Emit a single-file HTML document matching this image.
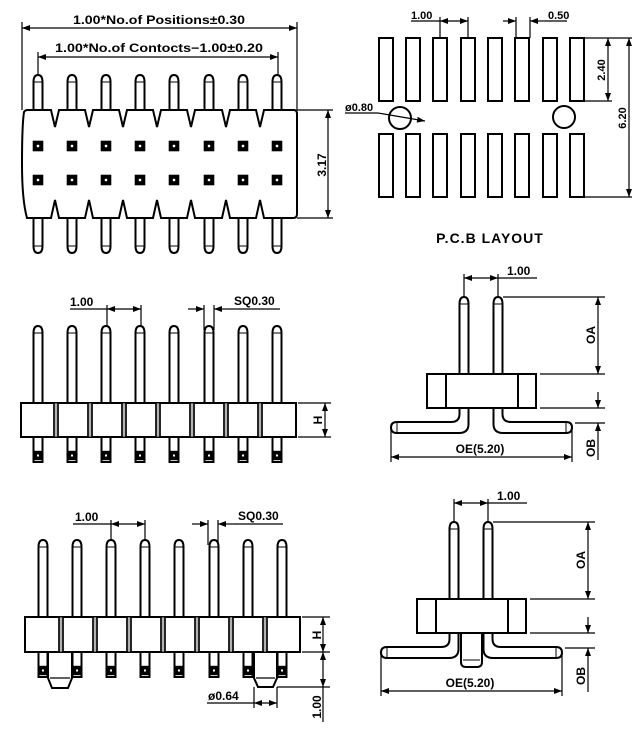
<!DOCTYPE html>
<html><head><meta charset="utf-8">
<style>html,body{margin:0;padding:0;background:#fff;}svg{display:block}</style>
</head><body>
<svg width="640" height="737" viewBox="0 0 640 737" xmlns="http://www.w3.org/2000/svg" font-family="Liberation Sans, sans-serif" font-weight="bold" font-size="12">
<defs>
<marker id="a" viewBox="0 0 8 6" refX="8" refY="3" markerWidth="8" markerHeight="6" markerUnits="userSpaceOnUse" orient="auto-start-reverse"><path d="M0,0 L8,3 L0,6 z" fill="#000"/></marker>
<g id="pt35"><path d="M-4.5,35 L-4.5,7 Q-4.5,0 0,0 Q4.5,0 4.5,7 L4.5,35" fill="none" stroke="#000" stroke-width="2"/><path d="M-4.5,7 L4.5,7" stroke="#000" stroke-width="1"/></g>
<g id="pt77"><path d="M-4.5,77 L-4.5,7 Q-4.5,0 0,0 Q4.5,0 4.5,7 L4.5,77" fill="none" stroke="#000" stroke-width="2"/><path d="M-4.5,7 L4.5,7" stroke="#000" stroke-width="1"/></g>
<g id="sq"><rect x="-4" y="-4" width="8" height="8" fill="#000" stroke="#000" stroke-width="2.6"/><rect x="-1.2" y="-1.2" width="2.4" height="2.4" fill="#fff"/></g>
<g id="lp"><rect x="-4.5" y="0" width="9" height="25" fill="none" stroke="#000" stroke-width="2"/><rect x="-3" y="15" width="6" height="7" fill="#000" stroke="#000" stroke-width="2.4"/><rect x="-1" y="17.5" width="2" height="2" fill="#fff"/></g>
</defs>
<g stroke="#000" fill="none" stroke-width="1.2">
<line x1="22" y1="22" x2="22" y2="110"/><line x1="297" y1="22" x2="297" y2="110"/>
<line x1="22" y1="28" x2="297" y2="28" marker-start="url(#a)" marker-end="url(#a)"/>
<line x1="38" y1="52" x2="38" y2="75"/><line x1="278" y1="52" x2="278" y2="75"/>
<line x1="38" y1="57" x2="278" y2="57" marker-start="url(#a)" marker-end="url(#a)"/>
<path stroke-width="2" d="M24,112 Q25,110 28,110 L51,110 L55,127 L59,110 L85,110 L89,127 L93,110 L119,110 L123,127 L127,110 L153,110 L157,127 L161,110 L187,110 L191,127 L195,110 L222,110 L226,127 L230,110 L256,110 L260,127 L264,110 L294,110 Q297,110 297,114 L297,214 Q297,218 293,218 L264,218 L260,200 L256,218 L230,218 L226,200 L222,218 L195,218 L191,200 L187,218 L161,218 L157,200 L153,218 L127,218 L123,200 L119,218 L93,218 L89,200 L85,218 L59,218 L55,200 L51,218 L27,218 Q22,200 22,164 Q22,125 24,112 Z"/>
<line x1="297" y1="110" x2="333" y2="110"/><line x1="297" y1="218" x2="333" y2="218"/>
<line x1="328" y1="110" x2="328" y2="218" marker-start="url(#a)" marker-end="url(#a)"/>
</g>
<g>
<use href="#pt35" x="38" y="75"/><use href="#pt35" x="72" y="75"/><use href="#pt35" x="106" y="75"/><use href="#pt35" x="140" y="75"/><use href="#pt35" x="174" y="75"/><use href="#pt35" x="209" y="75"/><use href="#pt35" x="243" y="75"/><use href="#pt35" x="277" y="75"/>
<g transform="translate(0,471) scale(1,-1)">
<use href="#pt35" x="38" y="218"/><use href="#pt35" x="72" y="218"/><use href="#pt35" x="106" y="218"/><use href="#pt35" x="140" y="218"/><use href="#pt35" x="174" y="218"/><use href="#pt35" x="209" y="218"/><use href="#pt35" x="243" y="218"/><use href="#pt35" x="277" y="218"/>
</g>
<use href="#sq" x="38" y="146"/><use href="#sq" x="72" y="146"/><use href="#sq" x="106" y="146"/><use href="#sq" x="140" y="146"/><use href="#sq" x="174" y="146"/><use href="#sq" x="209" y="146"/><use href="#sq" x="243" y="146"/><use href="#sq" x="277" y="146"/>
<use href="#sq" x="38" y="180"/><use href="#sq" x="72" y="180"/><use href="#sq" x="106" y="180"/><use href="#sq" x="140" y="180"/><use href="#sq" x="174" y="180"/><use href="#sq" x="209" y="180"/><use href="#sq" x="243" y="180"/><use href="#sq" x="277" y="180"/>
</g>
<text x="73" y="24" textLength="172" lengthAdjust="spacingAndGlyphs">1.00*No.of  Positions±0.30</text>
<text x="55" y="52" textLength="208" lengthAdjust="spacingAndGlyphs">1.00*No.of  Contocts−1.00±0.20</text>
<text transform="translate(326,165) rotate(-90)" text-anchor="middle">3.17</text>

<g>
<use href="#pt77" x="38" y="326"/><use href="#pt77" x="72" y="326"/><use href="#pt77" x="106" y="326"/><use href="#pt77" x="140" y="326"/><use href="#pt77" x="174" y="326"/><use href="#pt77" x="209" y="326"/><use href="#pt77" x="243" y="326"/><use href="#pt77" x="277" y="326"/>
<use href="#lp" x="38" y="437"/><use href="#lp" x="72" y="437"/><use href="#lp" x="106" y="437"/><use href="#lp" x="140" y="437"/><use href="#lp" x="174" y="437"/><use href="#lp" x="209" y="437"/><use href="#lp" x="243" y="437"/><use href="#lp" x="277" y="437"/>
</g>
<g stroke="#000" fill="none" stroke-width="1.2">
<rect x="21" y="403" width="275" height="34" fill="#fff" stroke-width="2"/>
<g stroke-width="1.7">
<path d="M54,403V437M58,403V437M88,403V437M92,403V437M122,403V437M126,403V437M156,403V437M160,403V437M190,403V437M194,403V437M224,403V437M228,403V437M258,403V437M262,403V437"/>
</g>
<path stroke="#999" stroke-width="1.5" d="M56,403V437M90,403V437M124,403V437M158,403V437M192,403V437M226,403V437M260,403V437"/>
<line x1="70" y1="309" x2="107" y2="309"/>
<line x1="107" y1="305" x2="107" y2="326"/><line x1="141" y1="305" x2="141" y2="326"/>
<line x1="107" y1="309" x2="141" y2="309" marker-start="url(#a)" marker-end="url(#a)"/>
<line x1="204" y1="305" x2="204" y2="330"/><line x1="214" y1="305" x2="214" y2="330"/>
<line x1="188" y1="309" x2="204" y2="309" marker-end="url(#a)"/>
<line x1="230" y1="309" x2="214" y2="309" marker-end="url(#a)"/>
<line x1="230" y1="309" x2="280" y2="309"/>
<line x1="298" y1="403" x2="331" y2="403"/><line x1="298" y1="437" x2="331" y2="437"/>
<line x1="325" y1="403" x2="325" y2="437" marker-start="url(#a)" marker-end="url(#a)"/>
</g>
<text x="70" y="306">1.00</text>
<text x="234" y="305">SQ0.30</text>
<text transform="translate(322,420) rotate(-90)" text-anchor="middle">H</text>

<g>
<use href="#pt77" x="43" y="540"/><use href="#pt77" x="77" y="540"/><use href="#pt77" x="111" y="540"/><use href="#pt77" x="145" y="540"/><use href="#pt77" x="179" y="540"/><use href="#pt77" x="214" y="540"/><use href="#pt77" x="248" y="540"/><use href="#pt77" x="282" y="540"/>
<use href="#lp" x="43" y="652"/><use href="#lp" x="77" y="652"/><use href="#lp" x="111" y="652"/><use href="#lp" x="145" y="652"/><use href="#lp" x="179" y="652"/><use href="#lp" x="214" y="652"/><use href="#lp" x="248" y="652"/><use href="#lp" x="282" y="652"/>
</g>
<g stroke="#000" fill="none" stroke-width="1.2">
<path stroke-width="2" d="M48,652 L48,678 L52,688 L68,688 L72,678 L72,652"/>
<line x1="50" y1="678" x2="70" y2="678"/>
<path stroke-width="2" d="M254,652 L254,678 L258,687 L273,687 L277,678 L277,652"/>
<line x1="256" y1="678" x2="275" y2="678"/>
<rect x="25" y="617" width="275" height="35" fill="#fff" stroke-width="2"/>
<g stroke-width="1.7">
<path d="M59,617V652M63,617V652M93,617V652M97,617V652M127,617V652M131,617V652M161,617V652M165,617V652M195,617V652M199,617V652M229,617V652M233,617V652M263,617V652M267,617V652"/>
</g>
<path stroke="#999" stroke-width="1.5" d="M61,617V652M95,617V652M129,617V652M163,617V652M197,617V652M231,617V652M265,617V652"/>
<line x1="73" y1="524" x2="111" y2="524"/>
<line x1="111" y1="520" x2="111" y2="540"/><line x1="145" y1="520" x2="145" y2="540"/>
<line x1="111" y1="524" x2="145" y2="524" marker-start="url(#a)" marker-end="url(#a)"/>
<line x1="208" y1="520" x2="208" y2="545"/><line x1="218" y1="520" x2="218" y2="545"/>
<line x1="192" y1="524" x2="208" y2="524" marker-end="url(#a)"/>
<line x1="234" y1="524" x2="218" y2="524" marker-end="url(#a)"/>
<line x1="234" y1="524" x2="283" y2="524"/>
<line x1="302" y1="617" x2="330" y2="617"/><line x1="302" y1="652" x2="330" y2="652"/><line x1="277" y1="687" x2="330" y2="687"/>
<line x1="323" y1="617" x2="323" y2="652" marker-start="url(#a)" marker-end="url(#a)"/>
<line x1="323" y1="652" x2="323" y2="687" marker-start="url(#a)" marker-end="url(#a)"/>
<line x1="323" y1="687" x2="323" y2="722"/>
<line x1="254" y1="687" x2="254" y2="708"/><line x1="277" y1="687" x2="277" y2="708"/>
<line x1="207" y1="703" x2="254" y2="703"/>
<line x1="254" y1="703" x2="277" y2="703" marker-start="url(#a)" marker-end="url(#a)"/>
</g>
<text x="75" y="521">1.00</text>
<text x="238" y="520">SQ0.30</text>
<text transform="translate(321,635) rotate(-90)" text-anchor="middle">H</text>
<text transform="translate(321,707) rotate(-90)" text-anchor="middle">1.00</text>
<text x="208" y="700">ø0.64</text>

<g stroke="#000" fill="none" stroke-width="2">
<rect x="379" y="38" width="14" height="63"/><rect x="406" y="38" width="14" height="63"/><rect x="433" y="38" width="14" height="63"/><rect x="461" y="38" width="14" height="63"/><rect x="488" y="38" width="14" height="63"/><rect x="515" y="38" width="14" height="63"/><rect x="543" y="38" width="14" height="63"/><rect x="570" y="38" width="14" height="63"/>
<rect x="379" y="134" width="14" height="63"/><rect x="406" y="134" width="14" height="63"/><rect x="433" y="134" width="14" height="63"/><rect x="461" y="134" width="14" height="63"/><rect x="488" y="134" width="14" height="63"/><rect x="515" y="134" width="14" height="63"/><rect x="543" y="134" width="14" height="63"/><rect x="570" y="134" width="14" height="63"/>
<circle cx="400" cy="118" r="11"/><circle cx="564" cy="117" r="11"/>
</g>
<g stroke="#000" fill="none" stroke-width="1.2">
<line x1="411" y1="21" x2="440" y2="21"/>
<line x1="440" y1="17" x2="440" y2="38"/><line x1="468" y1="17" x2="468" y2="38"/>
<line x1="440" y1="21" x2="468" y2="21" marker-start="url(#a)" marker-end="url(#a)"/>
<line x1="516" y1="17" x2="516" y2="38"/><line x1="530" y1="17" x2="530" y2="38"/>
<line x1="503" y1="21" x2="516" y2="21" marker-end="url(#a)"/>
<line x1="545" y1="21" x2="530" y2="21" marker-end="url(#a)"/>
<line x1="545" y1="21" x2="567" y2="21"/>
<line x1="585" y1="38" x2="632" y2="38"/><line x1="585" y1="101" x2="612" y2="101"/><line x1="585" y1="197" x2="632" y2="197"/>
<line x1="608" y1="38" x2="608" y2="101" marker-start="url(#a)" marker-end="url(#a)"/>
<line x1="629" y1="38" x2="629" y2="197" marker-start="url(#a)" marker-end="url(#a)"/>
<line x1="345" y1="113" x2="378" y2="113"/>
<line x1="378" y1="113" x2="425" y2="121" marker-end="url(#a)"/>
</g>
<text x="411" y="19" font-size="11">1.00</text>
<text x="548" y="19" font-size="11">0.50</text>
<text transform="translate(605,70) rotate(-90)" text-anchor="middle" font-size="11">2.40</text>
<text transform="translate(626,118) rotate(-90)" text-anchor="middle" font-size="11">6.20</text>
<text x="345" y="111" font-size="11">ø0.80</text>
<text x="490" y="243" text-anchor="middle" font-size="14" letter-spacing="1">P.C.B  LAYOUT</text>

<g id="ev">
<use href="#pt77" x="464" y="297"/><use href="#pt77" x="498" y="297"/>
<g stroke="#000" fill="none" stroke-width="2">
<path d="M459.5,408 L459.5,414 Q459.5,422 451,422 L397,422 Q391,422 391,427.5 Q391,433 397,433 L459,433 Q468.5,433 468.5,424 L468.5,408"/>
<path d="M502.5,408 L502.5,414 Q502.5,422 511,422 L566,422 Q572,422 572,427.5 Q572,433 566,433 L503,433 Q493.5,433 493.5,424 L493.5,408"/>
<path stroke-width="1" d="M397,422V433M566,422V433"/>
<rect x="427" y="374" width="109" height="34" fill="#fff"/>
<line x1="446" y1="374" x2="446" y2="408"/><line x1="518" y1="374" x2="518" y2="408"/>
</g>
<g stroke="#000" fill="none" stroke-width="1.2">
<line x1="464" y1="274" x2="464" y2="297"/><line x1="498" y1="274" x2="498" y2="297"/>
<line x1="464" y1="278" x2="498" y2="278" marker-start="url(#a)" marker-end="url(#a)"/>
<line x1="498" y1="278" x2="537" y2="278"/>
<line x1="503" y1="297" x2="605" y2="297"/>
<line x1="540" y1="374" x2="605" y2="374"/><line x1="540" y1="408" x2="605" y2="408"/>
<line x1="598" y1="297" x2="598" y2="374" marker-start="url(#a)" marker-end="url(#a)"/>
<line x1="598" y1="392" x2="598" y2="408" marker-end="url(#a)"/>
</g>
<text x="507" y="275">1.00</text>
<text transform="translate(595,335) rotate(-90)" text-anchor="middle">OA</text>
</g>
<g stroke="#000" fill="none" stroke-width="1.2">
<line x1="575" y1="423" x2="605" y2="423"/>
<line x1="598" y1="440" x2="598" y2="423" marker-end="url(#a)"/>
<line x1="598" y1="440" x2="598" y2="460"/>
<line x1="391" y1="428" x2="391" y2="462"/><line x1="572" y1="428" x2="572" y2="462"/>
<line x1="391" y1="457" x2="572" y2="457" marker-start="url(#a)" marker-end="url(#a)"/>
</g>
<text transform="translate(595,448) rotate(-90)" text-anchor="middle">OB</text>
<text x="480" y="453" text-anchor="middle">OE(5.20)</text>

<g stroke="#000" fill="none" stroke-width="2">
<path d="M461,633 L461,662 Q461,667 466,667 L477,667 Q482,667 482,662 L482,633"/>
<line x1="463" y1="660" x2="480" y2="660" stroke-width="1"/>
</g>
<use href="#ev" transform="translate(-10,225)"/>
<g stroke="#000" fill="none" stroke-width="1.2">
<line x1="565" y1="648" x2="595" y2="648"/>
<line x1="588" y1="665" x2="588" y2="648" marker-end="url(#a)"/>
<line x1="588" y1="665" x2="588" y2="692"/>
<line x1="381" y1="653" x2="381" y2="696"/><line x1="562" y1="653" x2="562" y2="696"/>
<line x1="381" y1="691" x2="562" y2="691" marker-start="url(#a)" marker-end="url(#a)"/>
</g>
<text transform="translate(585,676) rotate(-90)" text-anchor="middle">OB</text>
<text x="470" y="687" text-anchor="middle">OE(5.20)</text>
</svg>
</body></html>
